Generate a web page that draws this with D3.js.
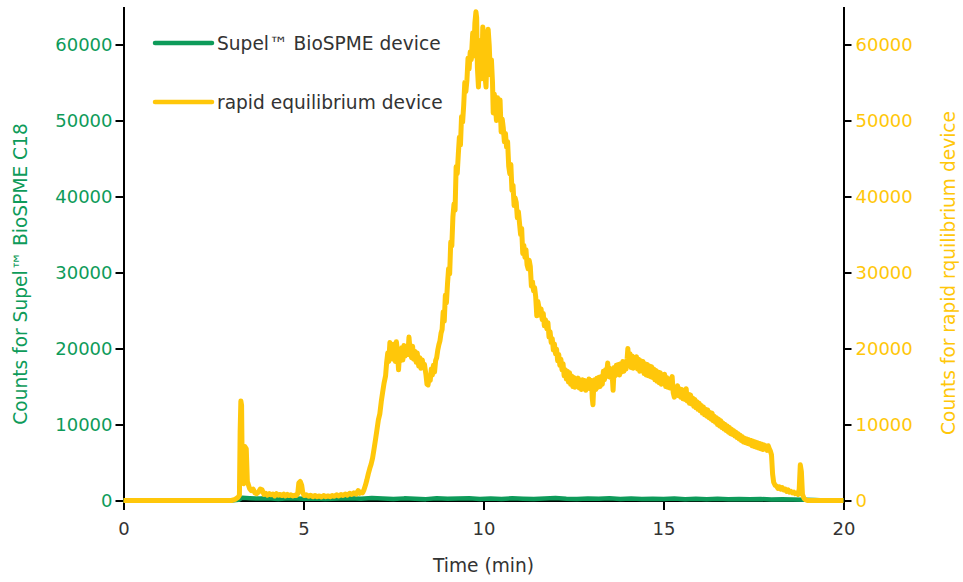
<!DOCTYPE html>
<html>
<head>
<meta charset="utf-8">
<script src="https://cdn.jsdelivr.net/npm/d3@7"></script>
<style>
  body { margin: 0; background: #fff; }
  svg { display: block; font-family: "DejaVu Sans", Verdana, sans-serif; }
</style>
</head>
<body>
<script>
// rapid equilibrium device trace: [time (min), counts]
let rapidTrace = [
  [0, 0], [1, 0], [2, 0], [3, 0], [3.10, 150], [3.18, 400], [3.22, 700], [3.24, 9000], [3.26, 13100], [3.28, 12500],
  [3.30, 3000], [3.34, 2200], [3.37, 7100], [3.41, 6800], [3.44, 2500], [3.50, 1600], [3.55, 1300], [3.60, 1500], [3.65, 1000], [3.70, 900],
  [3.75, 1100], [3.80, 1500], [3.85, 1400], [3.90, 800], [3.95, 950], [4.00, 700], [4.05, 900], [4.10, 750], [4.15, 850], [4.20, 600],
  [4.25, 900], [4.30, 700], [4.35, 800], [4.40, 650], [4.45, 850], [4.50, 600], [4.55, 800], [4.60, 650], [4.65, 750], [4.70, 600],
  [4.75, 700], [4.80, 650], [4.84, 900], [4.87, 2300], [4.91, 2500], [4.95, 2000], [4.98, 1000], [5.02, 650], [5.08, 750], [5.14, 550],
  [5.20, 700], [5.26, 500], [5.32, 650], [5.38, 500], [5.44, 600], [5.50, 450], [5.56, 650], [5.62, 500], [5.68, 600], [5.74, 500],
  [5.80, 650], [5.86, 550], [5.92, 750], [5.98, 600], [6.04, 800], [6.10, 650], [6.16, 850], [6.22, 700], [6.28, 950], [6.34, 800],
  [6.40, 1000], [6.46, 850], [6.52, 1300], [6.56, 950], [6.60, 1100], [6.64, 1000], [6.68, 1400], [6.72, 2000], [6.76, 2700], [6.80, 3500],
  [6.84, 4200], [6.88, 4800], [6.92, 5600], [6.96, 6800], [7.00, 8000], [7.04, 9300], [7.08, 10600], [7.12, 11400], [7.16, 13000], [7.20, 14300],
  [7.24, 15500], [7.28, 16400], [7.31, 18200], [7.34, 19400], [7.37, 18300], [7.40, 20800], [7.43, 19200], [7.46, 20300], [7.49, 18600], [7.52, 20600],
  [7.55, 18300], [7.58, 20900], [7.61, 19600], [7.64, 17200], [7.67, 19500], [7.70, 18400], [7.73, 20100], [7.76, 18500], [7.79, 20400], [7.82, 19000],
  [7.86, 20300], [7.90, 19200], [7.93, 21500], [7.96, 19800], [8.00, 18800], [8.03, 20300], [8.06, 18600], [8.10, 19600], [8.13, 18200], [8.16, 19400],
  [8.20, 17700], [8.23, 18800], [8.26, 17400], [8.30, 18500], [8.33, 17500], [8.36, 17900], [8.40, 16600], [8.43, 15300], [8.46, 15200], [8.49, 16200],
  [8.52, 15800], [8.55, 17300], [8.58, 16500], [8.61, 17800], [8.64, 16900], [8.67, 18400], [8.70, 18800], [8.73, 19800], [8.76, 20500], [8.79, 21000],
  [8.82, 22000], [8.85, 22500], [8.88, 24800], [8.91, 23600], [8.94, 27000], [8.97, 26000], [9.00, 28500], [9.03, 30500], [9.06, 29800], [9.09, 34000],
  [9.12, 33500], [9.15, 37300], [9.18, 39000], [9.21, 38200], [9.24, 43900], [9.27, 43000], [9.30, 45500], [9.33, 47800], [9.36, 46800], [9.39, 50500],
  [9.42, 49800], [9.45, 52000], [9.48, 55000], [9.51, 53800], [9.54, 55300], [9.57, 58200], [9.60, 56800], [9.63, 59000], [9.66, 58000], [9.70, 61500],
  [9.73, 58500], [9.76, 62800], [9.79, 64300], [9.81, 63500], [9.83, 57000], [9.86, 54400], [9.89, 60500], [9.92, 58000], [9.95, 55500], [9.98, 62300],
  [10.01, 61000], [10.04, 56000], [10.07, 54400], [10.10, 59500], [10.13, 62000], [10.16, 59800], [10.19, 56000], [10.22, 58000], [10.25, 55000], [10.27, 51000],
  [10.30, 53500], [10.33, 52000], [10.36, 50000], [10.39, 53000], [10.42, 51800], [10.46, 52700], [10.49, 48500], [10.52, 50200], [10.55, 49000], [10.58, 47200],
  [10.61, 48300], [10.64, 46500], [10.67, 47200], [10.70, 44000], [10.73, 43000], [10.76, 44200], [10.79, 40800], [10.82, 41500], [10.85, 38800], [10.88, 39800],
  [10.91, 39200], [10.94, 37200], [10.97, 38000], [11.00, 36500], [11.03, 35000], [11.06, 35800], [11.09, 32500], [11.12, 33600], [11.15, 32000], [11.18, 33000],
  [11.21, 31000], [11.24, 30500], [11.27, 31600], [11.30, 30800], [11.33, 28200], [11.36, 28800], [11.39, 27600], [11.42, 28000], [11.45, 26800], [11.48, 24300],
  [11.51, 26200], [11.54, 25400], [11.57, 24400], [11.60, 25200], [11.63, 23800], [11.66, 24600], [11.69, 23000], [11.72, 23800], [11.76, 22600], [11.79, 23400],
  [11.82, 21500], [11.85, 22200], [11.88, 20800], [11.91, 21300], [11.94, 19800], [11.97, 20600], [12.00, 19300], [12.03, 19900], [12.06, 18400], [12.09, 19200],
  [12.12, 17800], [12.15, 18600], [12.18, 17200], [12.21, 18000], [12.24, 16400], [12.27, 17200], [12.30, 16000], [12.33, 17000], [12.36, 15600], [12.39, 16800],
  [12.42, 15300], [12.45, 16400], [12.48, 15000], [12.51, 16200], [12.54, 14900], [12.57, 16000], [12.60, 15100], [12.63, 16100], [12.66, 14800], [12.69, 15700],
  [12.72, 14600], [12.75, 15900], [12.78, 14700], [12.81, 15800], [12.84, 14500], [12.87, 15500], [12.90, 14800], [12.93, 16000], [12.96, 14700], [13.00, 15800],
  [13.02, 13500], [13.04, 12600], [13.06, 14800], [13.09, 15900], [13.12, 14600], [13.15, 16100], [13.18, 14900], [13.21, 16200], [13.24, 15000], [13.27, 16300],
  [13.30, 15300], [13.33, 17000], [13.36, 15900], [13.39, 17200], [13.42, 16600], [13.45, 18100], [13.48, 16300], [13.51, 17400], [13.54, 16200], [13.57, 16900],
  [13.60, 14500], [13.63, 17500], [13.66, 16400], [13.69, 17800], [13.72, 16600], [13.75, 17900], [13.78, 16500], [13.81, 18000], [13.84, 16900], [13.87, 18300],
  [13.90, 17000], [13.93, 18200], [13.96, 17300], [13.99, 18700], [14.01, 20000], [14.04, 18000], [14.07, 19300], [14.10, 17500], [14.13, 19000], [14.16, 17400],
  [14.19, 18700], [14.22, 17600], [14.25, 18900], [14.28, 17300], [14.31, 18600], [14.34, 17000], [14.37, 18400], [14.40, 17100], [14.43, 18300], [14.46, 16700],
  [14.49, 18000], [14.52, 16500], [14.55, 17900], [14.58, 16400], [14.61, 17700], [14.64, 16300], [14.67, 17600], [14.70, 16200], [14.73, 17300], [14.76, 15900],
  [14.79, 17100], [14.82, 15700], [14.85, 16900], [14.88, 15500], [14.91, 16800], [14.94, 15300], [14.97, 16400], [15.00, 15500], [15.03, 16600], [15.06, 15000],
  [15.09, 16200], [15.12, 14900], [15.15, 16000], [15.18, 14800], [15.21, 15800], [15.24, 16300], [15.27, 14200], [15.30, 13600], [15.33, 14900], [15.36, 14000],
  [15.39, 15100], [15.42, 13800], [15.45, 14700], [15.48, 13600], [15.51, 14600], [15.54, 13400], [15.57, 14400], [15.60, 13300], [15.63, 14700], [15.66, 13100],
  [15.69, 14000], [15.72, 12800], [15.75, 13900], [15.78, 12700], [15.81, 13500], [15.84, 12400], [15.87, 13300], [15.90, 12200], [15.93, 13000], [15.96, 12000],
  [15.99, 12800], [16.02, 11800], [16.05, 12500], [16.08, 11500], [16.11, 12300], [16.14, 11300], [16.17, 12000], [16.20, 11100], [16.23, 11900], [16.26, 10900],
  [16.29, 11600], [16.32, 10700], [16.35, 11500], [16.38, 10500], [16.41, 11100], [16.44, 10300], [16.47, 10900], [16.50, 10000], [16.53, 10700], [16.56, 9800],
  [16.59, 10500], [16.62, 9600], [16.65, 10200], [16.68, 9400], [16.71, 10000], [16.74, 9200], [16.77, 9800], [16.80, 9000], [16.83, 9600], [16.86, 8800],
  [16.89, 9400], [16.92, 8700], [16.95, 9200], [16.98, 8500], [17.01, 9000], [17.04, 8300], [17.07, 8800], [17.10, 8100], [17.13, 8600], [17.16, 7900],
  [17.19, 8400], [17.22, 7700], [17.25, 8200], [17.28, 7600], [17.31, 8100], [17.34, 7500], [17.37, 8000], [17.40, 7400], [17.43, 7900], [17.46, 7200],
  [17.49, 7800], [17.52, 7100], [17.55, 7700], [17.58, 7000], [17.61, 7600], [17.64, 6900], [17.67, 7500], [17.70, 6800], [17.73, 7400], [17.76, 6700],
  [17.79, 7300], [17.82, 6800], [17.85, 7200], [17.88, 6600], [17.91, 7200], [17.94, 6800], [17.97, 6500], [18.00, 6000], [18.03, 3500], [18.06, 2400],
  [18.10, 2000], [18.14, 1900], [18.18, 1600], [18.22, 1800], [18.26, 1500], [18.30, 1700], [18.34, 1400], [18.38, 1500], [18.42, 1200], [18.46, 1400],
  [18.50, 1100], [18.54, 1200], [18.58, 1000], [18.62, 1100], [18.66, 900], [18.70, 1000], [18.74, 800], [18.77, 1500], [18.80, 4700], [18.83, 3800],
  [18.86, 800], [18.90, 300], [18.95, 100], [19.00, 0], [20, 0]
];

// Supel BioSPME trace, nearly flat
let supelTime = [0, 3.0, 3.2, 3.3, 3.5, 3.8, 4.0, 4.3, 4.6, 5.0, 5.3, 5.6, 6.0, 6.3, 6.6, 6.9, 7.2, 7.5, 7.8, 8.1,
  8.4, 8.7, 9.0, 9.3, 9.6, 9.9, 10.2, 10.5, 10.8, 11.1, 11.4, 11.7, 12.0, 12.3, 12.6, 12.9, 13.2, 13.5, 13.8, 14.1,
  14.4, 14.7, 15.0, 15.3, 15.6, 15.9, 16.2, 16.5, 16.8, 17.1, 17.4, 17.7, 18.0, 18.3, 18.6, 18.9, 19.2, 19.5, 20];
let supelCounts = [0, 0, 100, 350, 300, 250, 300, 200, 280, 220, 260, 200, 250, 300, 220, 330, 250, 200, 280, 240,
  180, 300, 220, 250, 300, 200, 260, 210, 280, 230, 190, 260, 320, 240, 200, 260, 220, 280, 210, 250,
  190, 240, 200, 250, 180, 230, 170, 220, 160, 200, 150, 190, 140, 170, 120, 100, 50, 0, 0];

let xTicks = [0, 5, 10, 15, 20];
let yTicks = [0, 10000, 20000, 30000, 40000, 50000, 60000];

let green = "#0e9b5a";
let yellow = "#ffc70a";
let textGray = "#333333";
let labelSize = 18.6;
let tickSize = 18;

let width = 963;
let height = 582;

let svg = d3.select("body").append("svg")
    .attr("width", width)
    .attr("height", height);

let x = d3.scaleLinear().domain([0, 20]).range([123.5, 843.5]);
let yLeft = d3.scaleLinear().domain([0, 65000]).range([500.5, 6.5]);
let yRight = d3.scaleLinear().domain([0, 65000]).range([500.5, 6.5]);

let supel = supelTime.map((t, i) => ({ t: t, v: supelCounts[i] }));
let rapid = rapidTrace.map(p => ({ t: p[0], v: p[1] }));

// x axis
let xAxisGroup = svg.append("g").attr("transform", "translate(0,500.5)");
xAxisGroup.call(d3.axisBottom(x).tickValues(xTicks).tickSize(9.5).tickSizeOuter(0).tickPadding(12));

// left axis
let leftGroup = svg.append("g").attr("transform", "translate(123.5,0)");
leftGroup.call(d3.axisLeft(yLeft).tickValues(yTicks).tickSize(8).tickSizeOuter(0).tickPadding(3).tickFormat(d3.format("d")));
leftGroup.selectAll("text").attr("fill", green);

// right axis
let rightGroup = svg.append("g").attr("transform", "translate(843.5,0)");
rightGroup.call(d3.axisRight(yRight).tickValues(yTicks).tickSize(8).tickSizeOuter(0).tickPadding(4).tickFormat(d3.format("d")));
rightGroup.selectAll("text").attr("fill", yellow);

svg.selectAll(".domain, .tick line").attr("stroke", "#000").attr("stroke-width", 2);
svg.selectAll(".tick text").attr("font-size", tickSize).attr("font-family", "DejaVu Sans, Verdana, sans-serif");
xAxisGroup.selectAll("text").attr("fill", textGray);

// lines
let lineSupel = d3.line().x(d => x(d.t)).y(d => yLeft(d.v));
let lineRapid = d3.line().x(d => x(d.t)).y(d => yRight(d.v));

svg.append("path")
    .datum(supel)
    .attr("fill", "none")
    .attr("stroke", green)
    .attr("stroke-width", 4.5)
    .attr("stroke-linejoin", "round")
    .attr("d", lineSupel);

svg.append("path")
    .datum(rapid)
    .attr("fill", "none")
    .attr("stroke", yellow)
    .attr("stroke-width", 5)
    .attr("stroke-linejoin", "round")
    .attr("d", lineRapid);

// axis titles
svg.append("text")
    .attr("x", x(10)).attr("y", 572)
    .attr("text-anchor", "middle")
    .attr("font-size", labelSize)
    .attr("fill", textGray)
    .text("Time (min)");

svg.append("text")
    .attr("transform", "translate(27,274) rotate(-90)")
    .attr("text-anchor", "middle")
    .attr("font-size", labelSize)
    .attr("fill", green)
    .text("Counts for Supel™ BioSPME C18");

svg.append("text")
    .attr("transform", "translate(955,273) rotate(-90)")
    .attr("text-anchor", "middle")
    .attr("font-size", labelSize)
    .attr("fill", yellow)
    .text("Counts for rapid rquilibrium device");

// legend
let legendItems = [
  { label: "Supel™ BioSPME device", color: green, y: 43 },
  { label: "rapid equilibrium device", color: yellow, y: 102 }
];
let legend = svg.append("g");
legendItems.forEach(item => {
  legend.append("line")
      .attr("x1", 155).attr("x2", 212)
      .attr("y1", item.y).attr("y2", item.y)
      .attr("stroke", item.color)
      .attr("stroke-width", 4.5)
      .attr("stroke-linecap", "round");
  legend.append("text")
      .attr("x", 217).attr("y", item.y)
      .attr("dy", "0.35em")
      .attr("font-size", labelSize)
      .attr("fill", textGray)
      .text(item.label);
});
</script>
</body>
</html>
